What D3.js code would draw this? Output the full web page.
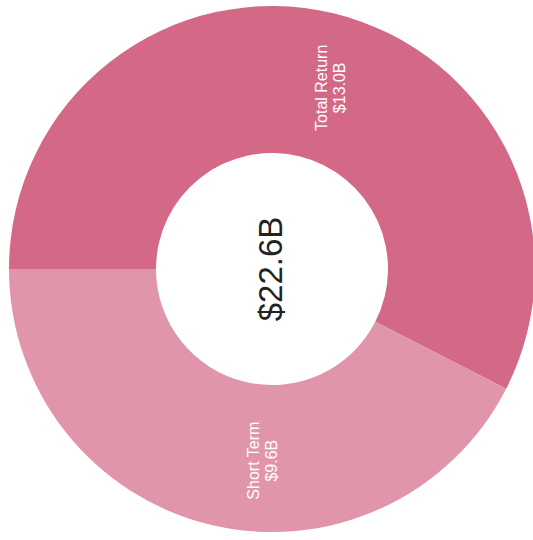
<!DOCTYPE html>
<html>
<head>
<meta charset="utf-8">
<script src="https://cdn.jsdelivr.net/npm/d3@7"></script>
<style>
  html, body { margin: 0; padding: 0; background: #fff; }
  svg { display: block; font-family: "Liberation Sans", Arial, sans-serif; }
</style>
</head>
<body>
<svg id="chart" width="533" height="540"></svg>
<script>
const categories = ["Total Return", "Short Term"];
const values = [13.0, 9.6];
const valueLabels = ["$13.0B", "$9.6B"];
const totalLabel = "$22.6B";
const colors = ["#d36987", "#e095aa"];

const svg = d3.select("#chart");
const cx = 272, cy = 269;
const outerR = 263, innerR = 116;

const data = categories.map((c, i) => ({ name: c, value: values[i], label: valueLabels[i], color: colors[i] }));

const pie = d3.pie().sort(null).value(d => d.value);
const arcs = pie(data);
const arc = d3.arc().innerRadius(innerR).outerRadius(outerR);
const labelArc = d3.arc().innerRadius(191).outerRadius(191);

const g = svg.append("g").attr("transform", `translate(${cx},${cy}) rotate(-90)`);

g.selectAll("path.slice")
  .data(arcs)
  .join("path")
  .attr("class", "slice")
  .attr("d", arc)
  .attr("fill", d => d.data.color);

// label fine-tuning (in rotated frame)
const labelShift = [[-4.5, 14], [-6, 36]];

const labels = g.selectAll("text.lbl")
  .data(arcs)
  .join("text")
  .attr("class", "lbl")
  .attr("transform", (d, i) => {
    const [x, y] = labelArc.centroid(d);
    return `translate(${x + labelShift[i][0]},${y + labelShift[i][1]})`;
  })
  .attr("text-anchor", "middle")
  .attr("fill", "#fff")
  .attr("font-size", 16);

labels.append("tspan").attr("x", 0).attr("dy", -4).text(d => d.data.name);
labels.append("tspan").attr("x", 0).attr("dy", 18).text(d => d.data.label);

g.append("text")
  .attr("text-anchor", "middle")
  .attr("dy", "0.3em")
  .attr("fill", "#222")
  .attr("font-size", 33)
  .text(totalLabel);
</script>
</body>
</html>
